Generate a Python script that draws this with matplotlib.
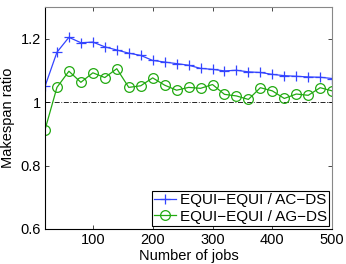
import matplotlib
matplotlib.use("Agg")
import matplotlib.pyplot as plt

jobs = list(range(20, 501, 20))
ac_ds = [1.050, 1.158, 1.205, 1.188, 1.190, 1.175, 1.165, 1.155, 1.148, 1.132,
         1.127, 1.122, 1.117, 1.107, 1.104, 1.099, 1.101, 1.096, 1.094, 1.088,
         1.084, 1.082, 1.080, 1.079, 1.075]
ag_ds = [0.913, 1.047, 1.098, 1.063, 1.093, 1.078, 1.106, 1.047, 1.052, 1.077,
         1.054, 1.038, 1.047, 1.044, 1.056, 1.025, 1.020, 1.009, 1.046, 1.036,
         1.012, 1.026, 1.022, 1.046, 1.036]
labels = ["EQUI\u2212EQUI / AC\u2212DS", "EQUI\u2212EQUI / AG\u2212DS"]
xticks = [100, 200, 300, 400, 500]
yticks = [0.6, 0.8, 1.0, 1.2]
yticklabels = ["0.6", "0.8", "1", "1.2"]

plt.rcParams['font.family'] = ['Liberation Sans', 'DejaVu Sans']
plt.rcParams['font.size'] = 10.5

fig = plt.figure(figsize=(3.46, 2.64), dpi=100)
ax = fig.add_axes([0.130, 0.1326, 0.830, 0.840])

ax.plot(jobs, ac_ds, color='#3344ff', marker='+', markersize=7.5, linewidth=0.9,
        markeredgewidth=0.9, label=labels[0])
ax.plot(jobs, ag_ds, color='#22aa11', marker='o', markersize=7, linewidth=0.9,
        markeredgewidth=0.9, markerfacecolor='none', label=labels[1])
ax.axhline(1.0, color='black', linestyle='-.', linewidth=0.6, dashes=(6, 2, 1, 2), zorder=0)

ax.set_xlim(20, 500)
ax.set_ylim(0.6, 1.3)
ax.set_xticks(xticks)
ax.set_yticks(yticks)
ax.set_yticklabels(yticklabels)
ax.tick_params(direction='in', top=True, right=True, length=3, width=0.5, pad=3)
for s in ax.spines.values():
    s.set_linewidth(0.8)
ax.spines['right'].set_color('#888888')
ax.spines['top'].set_color('#888888')

ax.set_xlabel("Number of jobs", labelpad=1)
ax.set_ylabel("Makespan ratio", labelpad=4)

leg = ax.legend(loc='lower right', fancybox=False, edgecolor='black', framealpha=1,
                fontsize=11, borderpad=0.15, handlelength=1.4, handletextpad=0.25,
                labelspacing=0.15, borderaxespad=0.2)
leg.get_frame().set_linewidth(0.8)

fig.savefig("out.png", dpi=100)
